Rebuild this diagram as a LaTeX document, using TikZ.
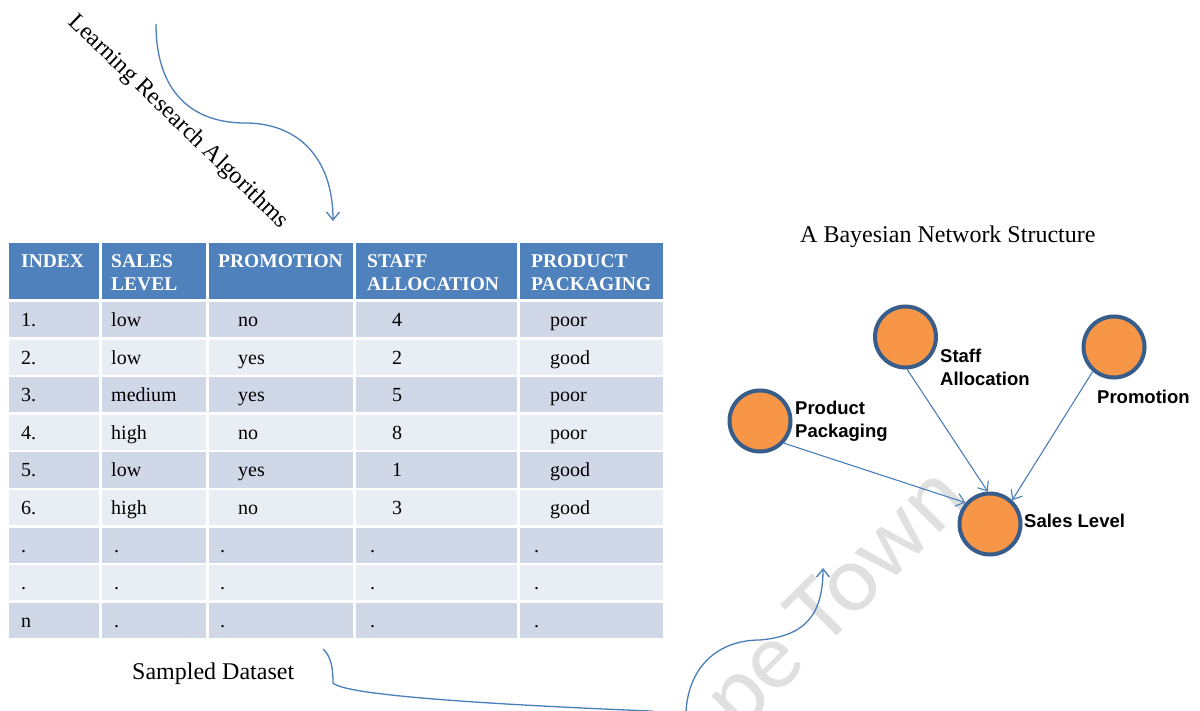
\documentclass[tikz,border=0pt]{standalone}
\usepackage{fontspec}
\setmainfont{Liberation Serif}
\newfontfamily\labelfont{Liberation Sans}
\newfontfamily\markfont{Carlito}
\usetikzlibrary{arrows.meta}

\definecolor{hdrblue}{HTML}{4F81BD}
\definecolor{rowdark}{HTML}{D0D8E8}
\definecolor{rowlight}{HTML}{E9EDF4}
\definecolor{nodefill}{HTML}{F79646}
\definecolor{nodeline}{HTML}{385D8A}
\definecolor{linkblue}{HTML}{4A7EBB}

\begin{document}
\begin{tikzpicture}[x=1pt,y=-1pt,
  cell/.style={anchor=base west, inner sep=0pt, font=\fontsize{20}{24}\selectfont},
  hcell/.style={anchor=base west, inner sep=0pt, text=white, font=\fontsize{19.5}{23}\selectfont\bfseries},
  var/.style={circle, fill=nodefill, draw=nodeline, line width=4pt, minimum size=61pt, inner sep=0pt},
  varlabel/.style={inner sep=0pt, align=left, font=\labelfont\bfseries\fontsize{18.5}{23}\selectfont},
  link/.style={draw=linkblue, line width=1.1pt, -{Straight Barb[length=8pt,width=13pt]}},
  flow/.style={draw=linkblue, line width=1.3pt, -{Straight Barb[length=8pt,width=13pt]}},
  caption/.style={inner sep=0pt, anchor=base west, font=\fontsize{24}{28}\selectfont},
  watermark/.style={inner sep=0pt, text=black!12, font=\markfont\fontsize{96}{96}\selectfont}
]
\useasboundingbox (0,0) rectangle (1200,711);
\fill[white] (0,0) rectangle (1200,711);

% faint watermark behind everything
\begin{scope}
  \clip (0,0) rectangle (1200,711);
  \node[watermark, anchor=base west, rotate=45] (wm) at (739,734) {pe Town};
\end{scope}

% ---- table: header band and striped rows ----
\foreach \l/\r in {9/99, 101.5/206, 208.5/353, 355.5/517, 519.5/663} {
  \fill[hdrblue] (\l,243) rectangle (\r,299);
  \foreach \i/\col in {1/rowdark,2/rowlight,3/rowdark,4/rowlight,5/rowdark,
                       6/rowlight,7/rowdark,8/rowlight,9/rowdark} {
    \pgfmathsetmacro\rowtop{302+37.6*(\i-1)}
    \fill[\col] (\l,\rowtop) rectangle (\r,\rowtop+35.1);
  }
}

% header labels
\node[hcell] (h1) at (21,267.5)  {INDEX};
\node[hcell] (h2a) at (111,267.5) {SALES};
\node[hcell] (h2b) at (111,290.5) {LEVEL};
\node[hcell] (h3) at (218,267.5) {PROMOTION};
\node[hcell] (h4a) at (367,267.5) {STAFF};
\node[hcell] (h4b) at (367,290.5) {ALLOCATION};
\node[hcell] (h5a) at (531,267.5) {PRODUCT};
\node[hcell] (h5b) at (531,290.5) {PACKAGING};

% data rows
\foreach \i/\va/\vb/\vc/\vd/\ve in {1/1./low/no/4/poor, 2/2./low/yes/2/good,
    3/3./medium/yes/5/poor, 4/4./high/no/8/poor, 5/5./low/yes/1/good,
    6/6./high/no/3/good} {
  \pgfmathsetmacro\base{302+37.6*(\i-1)+24.5}
  \node[cell] (d\i a) at (21,\base)  {\va};
  \node[cell] (d\i b) at (111,\base) {\vb};
  \node[cell] (d\i c) at (238,\base) {\vc};
  \node[cell] (d\i d) at (392,\base) {\vd};
  \node[cell] (d\i e) at (550,\base) {\ve};
}
\foreach \i/\va in {7/., 8/., 9/n} {
  \pgfmathsetmacro\base{302+37.6*(\i-1)+24.5}
  \node[cell] (d\i a) at (21,\base)  {\va};
  \node[cell] (d\i b) at (114,\base) {.};
  \node[cell] (d\i c) at (220,\base) {.};
  \node[cell] (d\i d) at (370,\base) {.};
  \node[cell] (d\i e) at (534,\base) {.};
}

% ---- captions ----
\node[caption] (title) at (800,243) {A Bayesian Network Structure};
\node[caption] (dataset) at (132,679) {Sampled Dataset};
\node[caption, anchor=center, rotate=-44] (learn) at (178,122) {Learning Research Algorithms};

% ---- Bayesian network ----
\node[var] (pp) at (760,421) {};
\node[var] (sa) at (905.5,337) {};
\node[var] (pr) at (1114,347) {};
\node[var] (sl) at (990,524) {};

\node[varlabel, anchor=north west] (ppl) at (795,400.5) {Product\\Packaging};
\node[varlabel, anchor=north west] (sal) at (940,348.5) {Staff\\Allocation};
\node[varlabel, anchor=base west] (prl) at (1097,403.5) {Promotion};
\node[varlabel, anchor=base west] (sll) at (1024,527.5) {Sales Level};

\draw[link] (pp.-43) -- (sl.139);
\draw[link] (sa.-87) -- (sl.94);
\draw[link] (pr.-131) -- (sl.47);

% ---- flow arrows ----
\coordinate (la) at (156,24);
\coordinate (lb) at (333,221);
\draw[flow] (la) .. controls (156,95) and (195,123) .. (245,123)
  .. controls (300,123) and (333,160) .. (lb);

\coordinate (sa0) at (323,649);
\coordinate (sb0) at (823,568);
\begin{scope}
  \clip (0,0) rectangle (1200,711);
  \draw[flow] (sa0) .. controls (331,656) and (333,668) .. (333,683)
    .. controls (345,695) and (480,704) .. (650,711)
    .. controls (668,712) and (685,730) .. (686,712)
    .. controls (688,670) and (715,640) .. (760,640)
    .. controls (805,636) and (823,615) .. (sb0);
\end{scope}
\end{tikzpicture}
\end{document}
